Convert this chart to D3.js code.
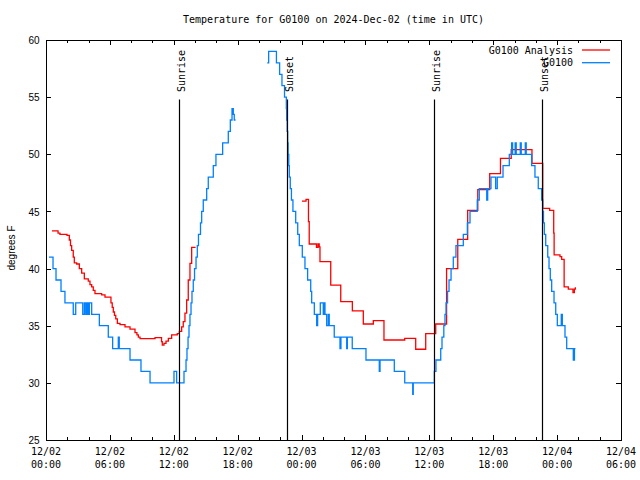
<!DOCTYPE html>
<html><head><meta charset="utf-8">
<script src="https://cdn.jsdelivr.net/npm/d3@7"></script>
<style>
html,body{margin:0;padding:0;background:#fff;}
svg{display:block;}
.mono{font-family:"DejaVu Sans Mono",monospace;font-size:10px;fill:#000;}
.sans{font-family:"Liberation Sans",Arial,sans-serif;font-size:10px;fill:#000;}
</style></head>
<body>
<script>
// ---- data (hours since 2024-12-02 00:00 UTC) ----
const titleText = "Temperature for G0100 on 2024-Dec-02 (time in UTC)";
const yLabel = "degrees F";
const seriesNames = ["G0100 Analysis", "G0100"];
const seriesColors = ["#ff0000", "#0080ff"];
const yTicks = [25, 30, 35, 40, 45, 50, 55, 60];
const xTickHours = [0, 6, 12, 18, 24, 30, 36, 42, 48, 54];
const xTickLabels = [["12/02","00:00"],["12/02","06:00"],["12/02","12:00"],["12/02","18:00"],
  ["12/03","00:00"],["12/03","06:00"],["12/03","12:00"],["12/03","18:00"],["12/04","00:00"],["12/04","06:00"]];
const sunriseHours = [12.52, 36.47];
const sunsetHours = [22.60, 46.61];

// Analysis (red) — null breaks the line
const redHours = [0.56,1.13,1.31,1.97,2.19,2.30,2.41,2.56,2.66,2.88,3.13,3.35,3.60,3.97,4.13,4.29,4.44,4.60,5.23,5.54,6.10,6.22,6.32,6.43,6.55,6.70,6.95,7.42,7.89,8.36,8.54,8.67,8.83,10.24,10.85,10.92,11.08,11.27,11.49,11.80,12.33,12.52,12.74,12.89,13.05,13.21,13.36,13.52,13.68,13.99,
  14.1,
  24.04,24.42,24.65,24.72,25.40,25.54,25.66,25.73,26.74,27.68,28.77,29.80,30.74,31.74,33.69,34.72,35.66,36.60,37.62,38.67,39.60,40.55,41.67,42.68,43.69,45.64,46.65,47.30,47.68,47.72,48.27,48.43,48.66,49.05,49.49,49.62,49.71];
const redTemps = [43.3,43.1,43.0,42.9,42.5,42.0,41.6,41.0,40.5,40.4,40.0,39.6,39.1,38.9,38.6,38.4,38.1,37.8,37.7,37.5,37.0,36.6,36.2,35.9,35.6,35.2,35.1,34.9,34.7,34.4,34.2,34.0,33.87,33.96,33.6,33.31,33.46,33.65,33.9,34.2,34.3,34.5,34.9,35.35,36.1,37.25,39.0,40.46,41.85,41.9,
  null,
  45.9,46.05,44.1,42.15,41.85,42.15,41.9,40.6,38.56,37.1,36.3,35.15,35.44,33.75,33.9,32.94,34.3,35.15,40.0,42.56,45.1,46.9,48.3,49.65,50.4,49.2,45.27,45.1,43.1,41.2,41.04,40.8,38.4,38.2,37.9,38.2,38.37];

// Observed (blue)
const blueHours = [0.28,0.66,0.94,1.41,1.78,2.56,2.79,3.45,3.60,3.73,3.85,3.97,4.07,4.29,5.01,5.85,6.26,6.79,6.88,7.89,8.92,9.77,12.02,12.27,12.96,13.15,13.24,13.34,13.43,13.52,13.62,13.71,13.83,13.95,14.09,14.21,14.32,14.51,14.62,14.77,15.09,15.24,15.71,15.96,16.59,17.12,17.31,17.47,17.59,17.68,17.80,
  17.9,
  20.78,20.91,21.64,21.94,22.16,22.40,22.57,22.60,22.65,22.70,22.74,22.80,22.85,22.94,23.05,23.19,23.45,23.64,23.79,24.07,24.32,24.57,24.86,24.95,25.20,25.42,25.51,25.76,26.04,26.13,26.20,26.36,26.51,26.60,27.07,27.61,27.70,28.24,28.30,28.76,30.05,31.30,31.37,32.71,33.69,34.44,34.49,36.47,36.62,37.07,37.19,37.36,37.47,37.57,37.71,37.85,38.04,38.25,38.50,39.19,39.57,39.82,40.50,40.69,41.39,41.48,41.79,42.23,42.38,42.92,43.51,43.73,43.82,44.06,44.16,44.54,44.63,45.01,45.10,45.61,45.92,46.23,46.55,46.65,46.72,46.80,46.93,47.12,47.24,47.36,47.49,47.71,47.87,48.02,48.39,48.49,48.74,48.90,49.52,49.63,49.72];
const blueTemps = [41,40,39,38,37,36,37,36,37,36,37,36,37,36,35,34,33,34,33,32,31,30,31,30,31,32,33,34,35,36,37,38,39,40,41,42,43,44,45,46,47,48,49,50,51,52,53,54,53.5,53,53,
  null,
  58,59,58,57,56,55,54,53,52,51,50,49,48,47,46,45,44,43,42,41,40,39,38,37,36,35,36,37,36,37,36,35,36,35,34,33,34,33,34,33,32,31,32,31,30,29,30,31,32,33,34,35,36,37,38,39,40,41,42,43,44,45,46,47,46,47,48,47,48,49,50,51,50,51,50,51,50,51,50,49,48,47,46,45,44,43,42,41,40,39,38,37,36,35,36,35,34,33,32,33,33];

// ---- drawing ----
const W = 640, H = 480;
const L = 46, R = 621, T = 40, B = 440;
const t0 = Date.UTC(2024, 11, 2, 0, 0);
const toDate = h => new Date(t0 + h * 3600e3);

const svg = d3.select("body").append("svg").attr("width", W).attr("height", H);
svg.append("rect").attr("width", W).attr("height", H).attr("fill", "#fff");

const x = d3.scaleUtc().domain([toDate(0), toDate(54)]).range([L, R]);
const y = d3.scaleLinear().domain([25, 60]).range([B, T]);

const axG = svg.append("g").attr("shape-rendering", "crispEdges");
const majorDates = xTickHours.map(toDate);
const minorDates = d3.range(0, 55, 2).filter(h => h % 6 !== 0).map(toDate);

function styleAxis(g) {
  g.select(".domain").remove();
  g.selectAll("line").attr("stroke", "#000");
}
// bottom
axG.append("g").attr("transform", `translate(0,${B})`)
  .call(d3.axisBottom(x).tickValues(majorDates).tickSize(-5).tickFormat(() => ""))
  .call(styleAxis);
axG.append("g").attr("transform", `translate(0,${B})`)
  .call(d3.axisBottom(x).tickValues(minorDates).tickSize(-3).tickFormat(() => "")).call(styleAxis);
// top mirror
axG.append("g").attr("transform", `translate(0,${T})`)
  .call(d3.axisTop(x).tickValues(majorDates).tickSize(-5).tickFormat(() => "")).call(styleAxis);
axG.append("g").attr("transform", `translate(0,${T})`)
  .call(d3.axisTop(x).tickValues(minorDates).tickSize(-3).tickFormat(() => "")).call(styleAxis);
// left
const left = axG.append("g").attr("transform", `translate(${L},0)`)
  .call(d3.axisLeft(y).tickValues(yTicks).tickSize(-5).tickFormat(d3.format("d")))
  .call(styleAxis);
left.selectAll("text").attr("class", "sans").attr("font-family", null).attr("font-size", null).attr("x", -6.5).attr("dy", "0.36em");
// right mirror
axG.append("g").attr("transform", `translate(${R},0)`)
  .call(d3.axisRight(y).tickValues(yTicks).tickSize(-5).tickFormat(() => "")).call(styleAxis);

// x tick labels, two lines
const xl = svg.append("g");
xTickHours.forEach((h, i) => {
  const t = xl.append("text").attr("class", "mono").attr("text-anchor", "middle")
    .attr("transform", `translate(${x(toDate(h))},0)`);
  t.append("tspan").attr("x", 0).attr("y", 455).text(xTickLabels[i][0]);
  t.append("tspan").attr("x", 0).attr("y", 468).text(xTickLabels[i][1]);
});

// frame
svg.append("rect").attr("x", L + 0.5).attr("y", T + 0.5).attr("width", R - L).attr("height", B - T)
  .attr("fill", "none").attr("stroke", "#000").attr("stroke-width", 1).attr("shape-rendering", "crispEdges");

// title & y label
svg.append("text").attr("class", "mono").attr("x", (L + R) / 2).attr("y", 23)
  .attr("text-anchor", "middle").text(titleText);
svg.append("text").attr("class", "sans").attr("text-anchor", "middle")
  .attr("transform", `translate(15,248) rotate(-90)`).text(yLabel);

// series
function series(hours, temps) {
  return hours.map((h, i) => ({ t: toDate(h), v: temps[i] }));
}
const line = d3.line().defined(d => d.v != null).x(d => x(d.t)).y(d => y(d.v)).curve(d3.curveStepAfter);
const plotG = svg.append("g");
plotG.append("path").datum(series(redHours, redTemps))
  .attr("d", line).attr("fill", "none").attr("stroke", seriesColors[0]).attr("stroke-width", 1.3);
plotG.append("path").datum(series(blueHours, blueTemps))
  .attr("d", line).attr("fill", "none").attr("stroke", seriesColors[1]).attr("stroke-width", 1.3);

// sunrise / sunset markers
const ev = sunriseHours.map(h => ({ h, label: "Sunrise" }))
  .concat(sunsetHours.map(h => ({ h, label: "Sunset" })));
ev.forEach(e => {
  const xp = Math.round(x(toDate(e.h))) + 0.5;
  svg.append("line").attr("x1", xp).attr("x2", xp).attr("y1", y(54.8)).attr("y2", B)
    .attr("stroke", "#000").attr("stroke-width", 1.2);
  svg.append("text").attr("class", "mono").attr("text-anchor", "start").attr("dy", "0.35em")
    .attr("transform", `translate(${xp + 1.5},92) rotate(-90)`).text(e.label);
});

// legend
const lg = svg.append("g");
seriesNames.forEach((n, i) => {
  const yy = 50 + i * 12.7;
  lg.append("text").attr("class", "mono").attr("x", 573).attr("y", yy).attr("dy", "0.35em")
    .attr("text-anchor", "end").text(n);
  lg.append("line").attr("x1", 582).attr("x2", 610).attr("y1", yy).attr("y2", yy)
    .attr("stroke", seriesColors[i]).attr("stroke-width", 1.3);
});
</script>
</body></html>
